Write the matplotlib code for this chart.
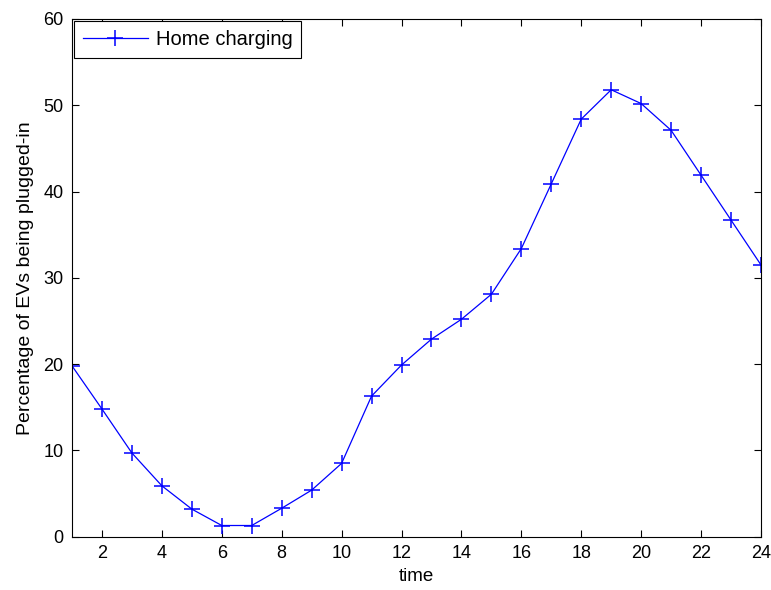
import matplotlib
matplotlib.use('Agg')
from matplotlib import pyplot as plt

plt.rcParams['font.family'] = ['Liberation Sans', 'DejaVu Sans']

# Dati
hours = list(range(1, 25))
home_charging = [19.8, 14.8, 9.7, 5.9, 3.2, 1.3, 1.3, 3.3, 5.4, 8.5, 16.3, 19.9,
                 22.9, 25.2, 28.1, 33.4, 40.9, 48.4, 51.8, 50.2, 47.1, 41.9, 36.7, 31.5]
x_ticks = list(range(2, 25, 2))
y_ticks = [0, 10, 20, 30, 40, 50, 60]

fig = plt.figure(figsize=(7.71, 5.9), dpi=100)
ax = fig.add_axes([0.0934, 0.0903, 0.8936, 0.8775])

ax.plot(hours, home_charging, color='#0000ff', marker='+', markersize=11,
        markeredgewidth=1.1, linewidth=0.9, label='Home charging')

ax.set_xlim(1, 24)
ax.set_ylim(0, 60)
ax.set_xticks(x_ticks)
ax.set_yticks(y_ticks)
ax.tick_params(direction='in', length=5, width=0.8, top=True, right=True,
               labelsize=13, colors='black', pad=6)
for spine in ax.spines.values():
    spine.set_linewidth(0.8)

ax.set_xlabel('time', fontsize=13.5, labelpad=4)
ax.set_ylabel('Percentage of EVs being plugged-in', fontsize=14, labelpad=7)

leg = ax.legend(loc='upper left', fontsize=14.5, fancybox=False, framealpha=1,
                edgecolor='black', borderaxespad=0.1, handlelength=3.2,
                handletextpad=0.4, borderpad=0.45)
leg.get_frame().set_linewidth(0.8)

fig.savefig('out.png', dpi=100)
